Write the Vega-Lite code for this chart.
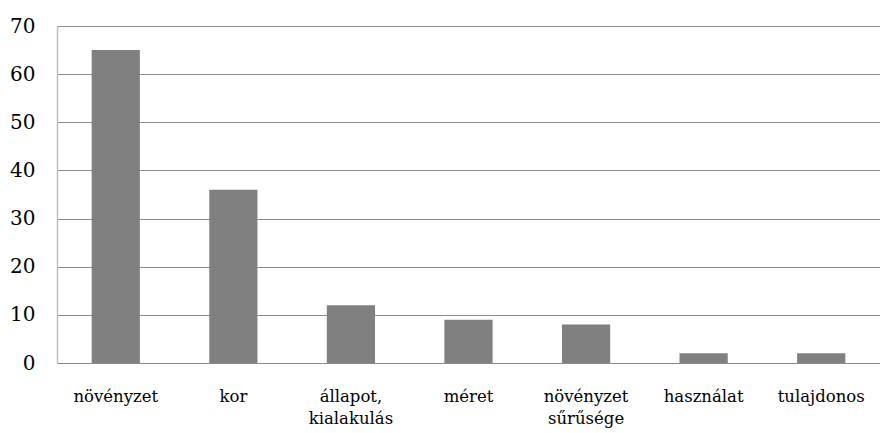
{
  "$schema": "https://vega.github.io/schema/vega-lite/v6.json",
  "width": 823,
  "height": 337,
  "autosize": {"type": "none"},
  "padding": {"left": 57, "top": 26, "right": 0, "bottom": 70},
  "background": "white",
  "data": {
    "values": [
      {"kategoria": "növényzet", "ertek": 65},
      {"kategoria": "kor", "ertek": 36},
      {"kategoria": "állapot, kialakulás", "ertek": 12},
      {"kategoria": "méret", "ertek": 9},
      {"kategoria": "növényzet sűrűsége", "ertek": 8},
      {"kategoria": "használat", "ertek": 2},
      {"kategoria": "tulajdonos", "ertek": 2}
    ]
  },
  "config": {
    "view": {"stroke": null},
    "font": "DejaVu Serif"
  },
  "mark": {"type": "bar", "color": "#808080"},
  "encoding": {
    "x": {
      "field": "kategoria",
      "type": "nominal",
      "sort": null,
      "scale": {"paddingInner": 0.59, "paddingOuter": 0.295},
      "axis": {
        "title": null,
        "labelAngle": 0,
        "ticks": false,
        "domainColor": "#8c8c8c",
        "domainWidth": 1,
        "labelFont": "DejaVu Serif",
        "labelFontSize": 16.5,
        "labelColor": "#000000",
        "labelPadding": 25,
        "labelBaseline": "top",
        "labelLineHeight": 22,
        "labelExpr": "datum.label == 'állapot, kialakulás' ? ['állapot,', 'kialakulás'] : datum.label == 'növényzet sűrűsége' ? ['növényzet', 'sűrűsége'] : datum.label"
      }
    },
    "y": {
      "field": "ertek",
      "type": "quantitative",
      "scale": {"domain": [0, 70], "nice": false},
      "axis": {
        "title": null,
        "values": [0, 10, 20, 30, 40, 50, 60, 70],
        "ticks": false,
        "grid": true,
        "gridColor": "#8c8c8c",
        "gridWidth": 1,
        "domainColor": "#c0c0c0",
        "domainWidth": 1.5,
        "labelFont": "DejaVu Serif",
        "labelFontSize": 20,
        "labelColor": "#000000",
        "labelPadding": 22
      }
    }
  }
}
